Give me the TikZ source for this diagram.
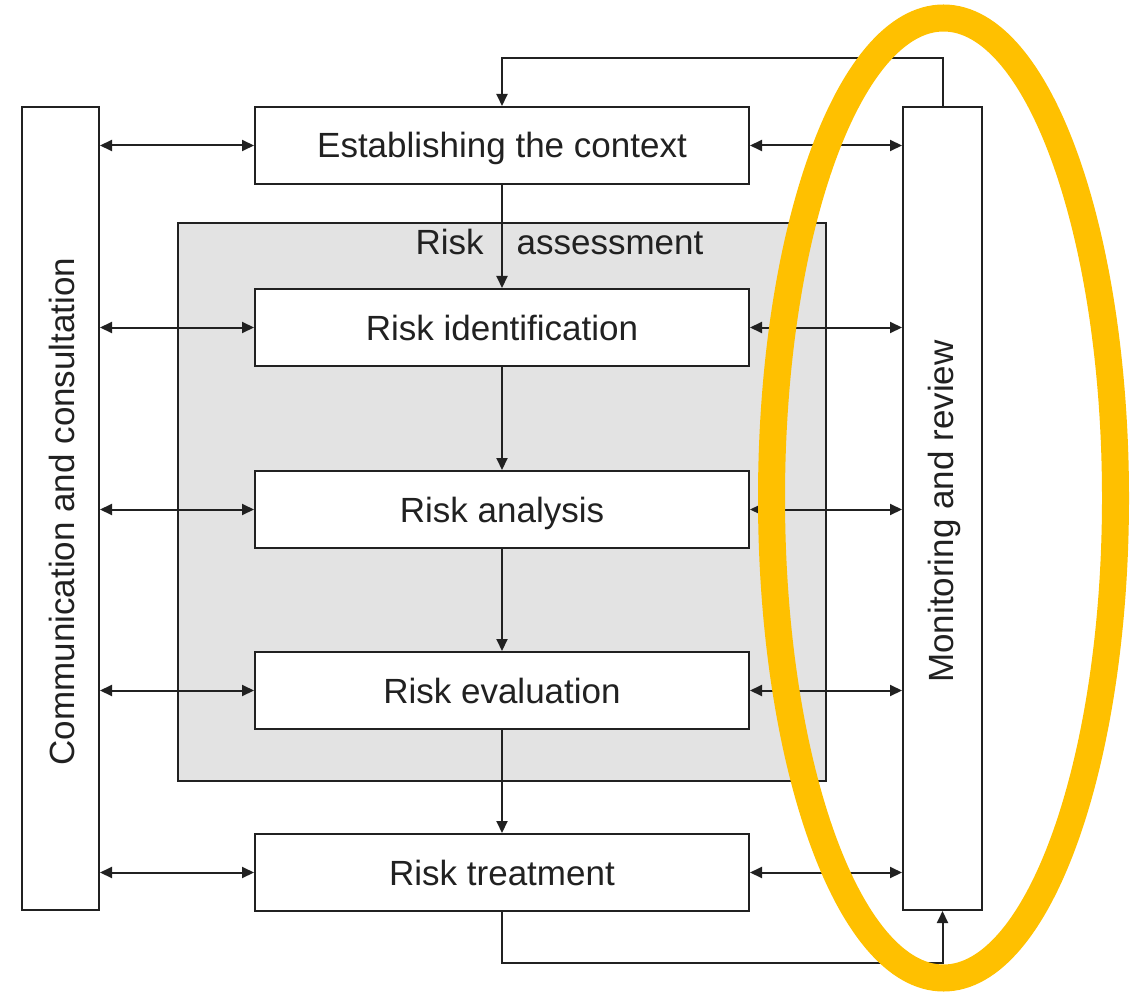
\documentclass[tikz,border=0pt]{standalone}
\usepackage{fontspec}
\setmainfont{Liberation Sans}
\usetikzlibrary{arrows.meta,calc}
\begin{document}
\begin{tikzpicture}[x=1pt,y=-1pt,
  ln/.style={draw=black!87,line width=2pt},
  stagebox/.style={ln,fill=white,minimum width=494pt,minimum height=77pt,inner sep=0pt,
    text height=25pt,text depth=0pt,
    font=\fontsize{35}{40}\selectfont,text=black!87},
  sidebox/.style={ln,fill=white,minimum width=78pt,minimum height=803pt,inner sep=0pt},
  sidetext/.style={rotate=90,font=\fontsize{35}{40}\selectfont,text=black!87,inner sep=0pt},
  arr/.style={ln,-{Triangle[length=12pt,width=11pt]}},
  darr/.style={ln,{Triangle[length=12pt,width=11pt]}-{Triangle[length=12pt,width=11pt]}},
]
\useasboundingbox (0,0) rectangle (1140,992);
% Risk assessment area
\node[ln,fill=black!11,minimum width=648pt,minimum height=558pt,inner sep=0pt] (ra) at (502,502) {};
\node[font=\fontsize{35}{40}\selectfont,text=black!87,inner sep=0pt,text height=25pt,text depth=0pt] (ralabel) at (559.5,242) {Risk\hspace{33pt}assessment};
% side boxes
\node[sidebox,minimum width=77pt] (comm) at (60.5,508.5) {};
\node[sidetext] (commtext) at (62,511.5) {Communication and consultation};
\node[sidebox,minimum width=79pt] (mon) at (942.5,508.5) {};
\node[sidetext] (montext) at (944,511.5) {Monitoring and review};
% stages
\node[stagebox] (est) at (502,145.5) {Establishing the context};
\node[stagebox] (rid) at (502,327.5) {Risk identification};
\node[stagebox] (ran) at (502,509.5) {Risk analysis};
\node[stagebox] (rev) at (502,690.5) {Risk evaluation};
\node[stagebox] (rtr) at (502,872.5) {Risk treatment};
% vertical flow
\draw[arr] (est) -- (rid);
\draw[arr] (rid) -- (ran);
\draw[arr] (ran) -- (rev);
\draw[arr] (rev) -- (rtr);
% horizontal double arrows
\foreach \n in {est,rid,ran,rev,rtr}{
  \draw[darr] (comm.east |- \n.west) -- (\n.west);
  \draw[darr] (\n.east) -- (mon.west |- \n.east);
}
% feedback loops
\coordinate (topy) at (0,58);
\coordinate (boty) at (0,963);
\draw[arr] (mon.north) -- (mon.north |- topy) -| (est.north);
\draw[arr] (rtr.south) -- (rtr.south |- boty) -| (mon.south);
% highlight
\draw[draw={rgb,255:red,255;green,192;blue,0},line width=27pt] (943.5,498) ellipse [x radius=172pt,y radius=480pt];
\end{tikzpicture}
\end{document}
